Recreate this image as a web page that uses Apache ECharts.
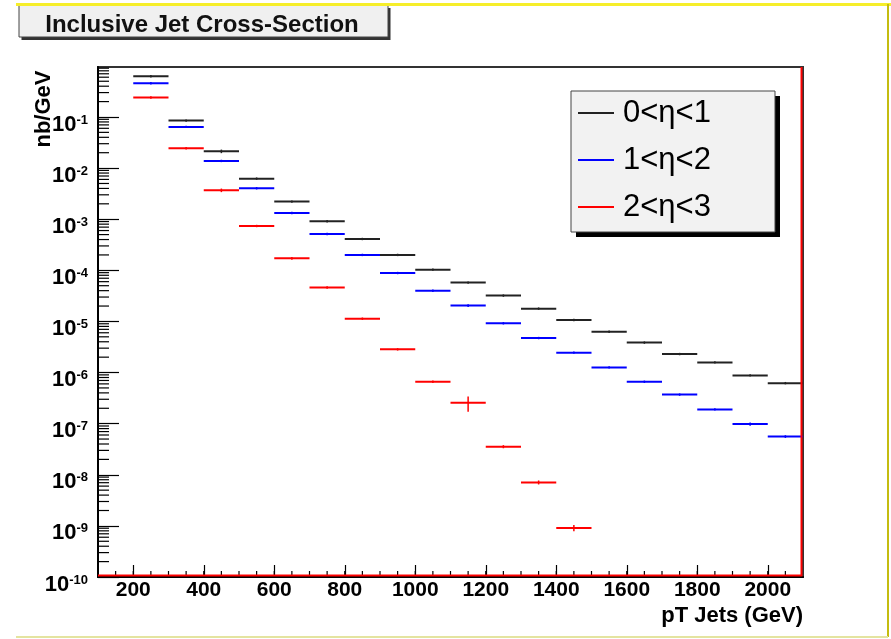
<!DOCTYPE html>
<html><head><meta charset="utf-8">
<script src="https://cdn.jsdelivr.net/npm/echarts@6/dist/echarts.min.js"></script>
<style>html,body{margin:0;padding:0;background:#fff}#c{width:891px;height:639px}</style>
</head><body><div id="c"></div>
<script>
// ---- data ----
const binLow = [200,300,400,500,600,700,800,900,1000,1100,1200,1300,1400,1500,1600,1700,1800,1900,2000];
const binWidth = 100;
const seriesNames = ['0<η<1','1<η<2','2<η<3'];
const seriesColors = ['#222222','#0000ff','#ff0000'];
const eta01 = [0.625,0.085,0.0213,0.00622,0.00221,9.1e-4,4.1e-4,2.0e-4,1.03e-4,5.75e-5,3.2e-5,1.78e-5,1.07e-5,6.3e-6,3.85e-6,2.3e-6,1.58e-6,8.8e-7,6.2e-7];
const eta12 = [0.457,0.064,0.0138,0.00403,1.32e-3,5.13e-4,2.0e-4,8.85e-5,3.98e-5,2.04e-5,9.2e-6,4.73e-6,2.45e-6,1.26e-6,6.6e-7,3.7e-7,1.9e-7,9.8e-8,5.6e-8];
const eta23 = [0.24,0.0245,0.00368,7.36e-4,1.72e-4,4.6e-5,1.13e-5,2.84e-6,6.6e-7,2.56e-7,3.55e-8,7.1e-9,9.1e-10];
// relative errors (sigma / value)
const relErr01 = [0.01,0.01,0.08,0.01,0.01,0.01,0.01,0.01,0.01,0.02,0.01,0.01,0.01,0.01,0.01,0.02,0.05,0.02,0.02];
const relErr12 = [0.01,0.01,0.01,0.01,0.01,0.01,0.01,0.01,0.02,0.06,0.01,0.01,0.01,0.01,0.01,0.02,0.02,0.07,0.06];
const relErr23 = [0.01,0.01,0.08,0.01,0.06,0.01,0.02,0.02,0.05,0.33,0.07,0.09,0.14];
const xTickValues = [200,400,600,800,1000,1200,1400,1600,1800,2000];
const yTickValues = [1e-10,1e-9,1e-8,1e-7,1e-6,1e-5,1e-4,1e-3,1e-2,1e-1];
const X_MIN = 100, X_MAX = 2100, Y_MIN = 1e-10, Y_MAX = 0.95;
const X_MINOR_STEP = 50;

// minor tick values (axis decoration)
const yMinor = [];
for (let k = -10; k <= -1; k++) for (let m = 2; m <= 9; m++) { const v = m * Math.pow(10, k); if (v < Y_MAX) yMinor.push(v); }
const xMinor = [];
for (let x = X_MIN + X_MINOR_STEP; x < X_MAX; x += X_MINOR_STEP) xMinor.push(x);

const FONT = 'Liberation Sans, Arial, Helvetica, sans-serif';

function histSeries(name, color, vals, rel) {
  const data = vals.map((v, i) => [binLow[i], binLow[i] + binWidth, v, v * rel[i]]);
  return {
    type: 'custom', name, coordinateSystem: 'cartesian2d',
    itemStyle: { color }, encode: { x: [0, 1], y: 2 }, data, z: 3,
    renderItem(params, api) {
      const lo = api.value(0), hi = api.value(1), v = api.value(2), e = api.value(3);
      const p1 = api.coord([lo, v]), p2 = api.coord([hi, v]);
      const mid = (lo + hi) / 2;
      const pu = api.coord([mid, v + e]), pd = api.coord([mid, Math.max(v - e, v * 0.05)]);
      const yu = Math.min(pu[1], p1[1] - 1.2), yd = Math.max(pd[1], p1[1] + 1.2);
      return { type: 'group', children: [
        { type: 'line', shape: { x1: p1[0], y1: p1[1], x2: p2[0], y2: p2[1] }, style: { stroke: color, lineWidth: 2 } },
        { type: 'line', shape: { x1: (p1[0] + p2[0]) / 2, y1: yu, x2: (p1[0] + p2[0]) / 2, y2: yd }, style: { stroke: color, lineWidth: 1.5 } }
      ]};
    }
  };
}

const tickSeries = {
  type: 'custom', name: 'minorTicks', coordinateSystem: 'cartesian2d', silent: true, z: 1,
  data: yMinor.map(v => ['y', v]).concat(xMinor.map(v => ['x', v])),
  encode: { x: -1, y: -1 },
  renderItem(params, api) {
    const idx = params.dataIndex;
    if (idx < yMinor.length) {
      const p = api.coord([X_MIN, yMinor[idx]]);
      return { type: 'line', shape: { x1: p[0], y1: p[1], x2: p[0] + 11, y2: p[1] }, style: { stroke: '#000', lineWidth: 1.2 } };
    }
    const p = api.coord([xMinor[idx - yMinor.length], Y_MIN]);
    return { type: 'line', shape: { x1: p[0], y1: p[1], x2: p[0], y2: p[1] - 6 }, style: { stroke: '#000', lineWidth: 1.2 } };
  }
};

// red outline of the eta 2-3 histogram frame (bottom and right edge), drawn just inside the axes
const redFrame = {
  type: 'custom', name: 'redFrame', coordinateSystem: 'cartesian2d', silent: true, z: 4,
  data: [['frame', 0]], encode: { x: -1, y: -1 },
  renderItem(params, api) {
    const bl = api.coord([X_MIN, Y_MIN]), br = api.coord([X_MAX, Y_MIN]), tr = api.coord([X_MAX, Y_MAX]);
    return { type: 'polyline', shape: { points: [[bl[0], bl[1] - 1.5], [br[0] - 1.5, br[1] - 1.5], [tr[0] - 1.5, tr[1]]] },
      style: { stroke: '#ff0000', lineWidth: 2, fill: null } };
  }
};

const chart = echarts.init(document.getElementById('c'), null, { renderer: 'canvas' });
chart.setOption({
  backgroundColor: '#ffffff',
  animation: false,
  grid: { left: 98, top: 67, width: 705, height: 510, show: true, borderColor: '#333', borderWidth: 2, backgroundColor: 'transparent', outerBoundsMode: 'none', containLabel: false },
  xAxis: {
    type: 'value', min: X_MIN, max: X_MAX,
    axisLine: { show: true, lineStyle: { color: '#000', width: 2 } },
    axisTick: { show: true, inside: true, length: 12, customValues: xTickValues, lineStyle: { color: '#000', width: 1.2 } },
    axisLabel: { customValues: xTickValues, formatter: v => String(v), fontSize: 21, fontWeight: 'bold', color: '#000', fontFamily: FONT, margin: 3 },
    splitLine: { show: false }, minorTick: { show: false }
  },
  yAxis: {
    type: 'log', logBase: 10, min: Y_MIN, max: Y_MAX,
    axisLine: { show: true, lineStyle: { color: '#000', width: 2 } },
    axisTick: { show: true, inside: true, length: 21, customValues: yTickValues, lineStyle: { color: '#000', width: 1.2 } },
    axisLabel: {
      customValues: yTickValues, margin: 10, padding: [15, 0, 0, 0],
      formatter: v => '{b|10}{s|' + Math.round(Math.log10(v)) + '}',
      rich: {
        b: { fontSize: 22, fontWeight: 'bold', color: '#000', fontFamily: FONT, lineHeight: 22 },
        s: { fontSize: 13, fontWeight: 'bold', color: '#000', fontFamily: FONT, lineHeight: 13, verticalAlign: 'top' }
      }
    },
    splitLine: { show: false }, minorTick: { show: false }
  },
  legend: {
    data: seriesNames, orient: 'vertical', left: 571, top: 91, padding: [5, 10, 8, 7],
    itemWidth: 36, itemHeight: 2, itemGap: 13, icon: 'rect', selectedMode: false, z: 6,
    textStyle: { fontSize: 31, fontFamily: FONT, color: '#000', lineHeight: 34, padding: [0, 0, 0, 4] }
  },
  graphic: [
    { type: 'line', shape: { x1: 16, y1: 4.5, x2: 891, y2: 4.5 }, style: { stroke: '#f6ee2a', lineWidth: 3 }, z: 10 },
    { type: 'line', shape: { x1: 888, y1: 4, x2: 888, y2: 637 }, style: { stroke: '#c4bc10', lineWidth: 2 }, z: 10 },
    { type: 'line', shape: { x1: 16, y1: 637, x2: 888, y2: 637 }, style: { stroke: '#e4e4a0', lineWidth: 2 }, z: 10 },
    { type: 'rect', shape: { x: 21.5, y: 8, width: 369, height: 32 }, style: { fill: '#333' }, z: 8 },
    { type: 'rect', shape: { x: 19, y: 5, width: 369, height: 32 }, style: { fill: '#f0f0f0', stroke: '#444', lineWidth: 1 }, z: 9 },
    { type: 'text', x: 202, y: 25, style: { text: 'Inclusive Jet Cross-Section', font: 'bold 24px ' + FONT, fill: '#111', align: 'center', verticalAlign: 'middle' }, z: 11 },
    { type: 'rect', shape: { x: 576, y: 96, width: 204, height: 141 }, style: { fill: '#000' }, z: 4 },
    { type: 'rect', shape: { x: 571, y: 91, width: 204, height: 141 }, style: { fill: '#f2f2f2', stroke: '#444', lineWidth: 1 }, z: 5 },
    { type: 'text', x: 44, y: 109, rotation: Math.PI / 2, style: { text: 'nb/GeV', font: 'bold 22px ' + FONT, fill: '#000', align: 'center', verticalAlign: 'middle' }, z: 10 },
    { type: 'text', x: 803, y: 616, style: { text: 'pT Jets (GeV)', font: 'bold 22px ' + FONT, fill: '#000', align: 'right', verticalAlign: 'middle' }, z: 10 }
  ],
  series: [
    tickSeries,
    redFrame,
    histSeries(seriesNames[0], seriesColors[0], eta01, relErr01),
    histSeries(seriesNames[1], seriesColors[1], eta12, relErr12),
    histSeries(seriesNames[2], seriesColors[2], eta23, relErr23)
  ]
});
</script></body></html>
